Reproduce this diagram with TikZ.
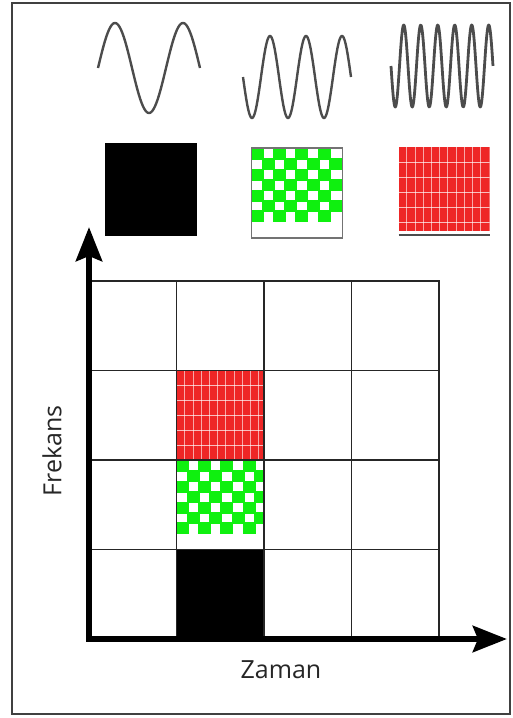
\documentclass[tikz,border=0pt]{standalone}
\usepackage{fontspec}
\setmainfont{Open Sans}
\usepackage{tikz}
\usetikzlibrary{arrows.meta,positioning,backgrounds}

\definecolor{chkgreen}{RGB}{15,240,15}
\definecolor{plaidred}{RGB}{238,38,38}

\begin{document}
\begin{tikzpicture}[
    x=1pt, y=-1pt,
    wave/.style={black!70, line width=2.4pt, line join=round},
    cell/.style={draw=black!85, line width=1.7pt, minimum width=87.5pt, minimum height=89.5pt, inner sep=0pt, outer sep=0pt},
    iconbox/.style={inner sep=0pt, outer sep=0pt, minimum width=91pt, minimum height=90pt},
    checker/.style={path picture={
        \foreach \i in {0,...,7}{
            \foreach \j in {0,...,6}{
                \pgfmathtruncatemacro{\chk}{mod(\i+\j,2)}
                \ifnum\chk=0
                    \fill[chkgreen] ([xshift=\i*11.2pt-1pt, yshift=-\j*10.4pt]path picture bounding box.north west) rectangle ++(13pt,-12pt);
                \fi
            }
        }
    }},
    plaid/.style={path picture={
        \fill[plaidred] (path picture bounding box.north west) rectangle ([yshift=#1]path picture bounding box.south east);
        \foreach \i in {1,...,10}
            \draw[white, line width=0.7pt, opacity=0.6] ([xshift=\i*8.2pt]path picture bounding box.north west) -- ([xshift=\i*8.2pt, yshift=#1]path picture bounding box.south west);
        \foreach \j in {1,...,5}
            \draw[white, line width=0.8pt, opacity=0.7] ([yshift=-\j*15pt]path picture bounding box.north west) -- ([yshift=-\j*15pt]path picture bounding box.north east);
    }},
    plaid/.default=0pt,
    axis/.style={line width=6.5pt, line join=miter, {Stealth[length=34pt,width=26pt,inset=5pt]}-{Stealth[length=34pt,width=26pt,inset=5pt]}},
    axislabel/.style={font=\fontsize{25}{29}\selectfont, text=black!85},
]
    \useasboundingbox (0,0) rectangle (513,718);
    \draw[black!75, line width=2.5pt] (12,3) rectangle (510,714);

    % three signals, rising frequency
    \draw[wave] plot[domain=98:200, samples=120] (\x,{68-45*sin(5.294*(\x-98))});
    \draw[wave] plot[domain=243:351, samples=160] (\x,{77+41*sin(10*(\x-243))});
    \draw[wave, line width=2.8pt] plot[domain=391:493, samples=240] (\x,{66+41*sin(21.176*(\x-391))});

    \node[iconbox, fill=black, minimum width=92pt, minimum height=93pt] (ikon-siyah) at (151,189.5) {};
    \node[iconbox, checker, draw=black!55, line width=1.5pt] (ikon-yesil) at (297,193) {};
    \node[iconbox, plaid=4pt, minimum height=88pt] (ikon-kirmizi) at (444,191) {};
    \draw[black!70, line width=2pt] (ikon-kirmizi.south west) -- (ikon-kirmizi.south east);

    % time-frequency grid
    \foreach \c in {1,...,4}
        \foreach \r in {1,...,4}
            \node[cell] (cell-\c-\r) at ({89+87.5*(\c-0.5)},{639-89.5*(\r-0.5)}) {};

    \begin{scope}[on background layer]
        \fill[black] (cell-2-1.south west) rectangle (cell-2-1.north east);
        \path[checker] (cell-2-2.south west) rectangle (cell-2-2.north east);
        \path[plaid] (cell-2-3.south west) rectangle (cell-2-3.north east);
    \end{scope}

    \coordinate (O) at (89,639);
    \coordinate (ytip) at (89,227);
    \coordinate (xtip) at (507,639);
    \draw[axis] (ytip) -- (O) -- (xtip);

    \node[axislabel, rotate=90] (frekans) at (52,451) {Frekans};
    \node[axislabel] (zaman) at (281,670) {Zaman};
\end{tikzpicture}
\end{document}
